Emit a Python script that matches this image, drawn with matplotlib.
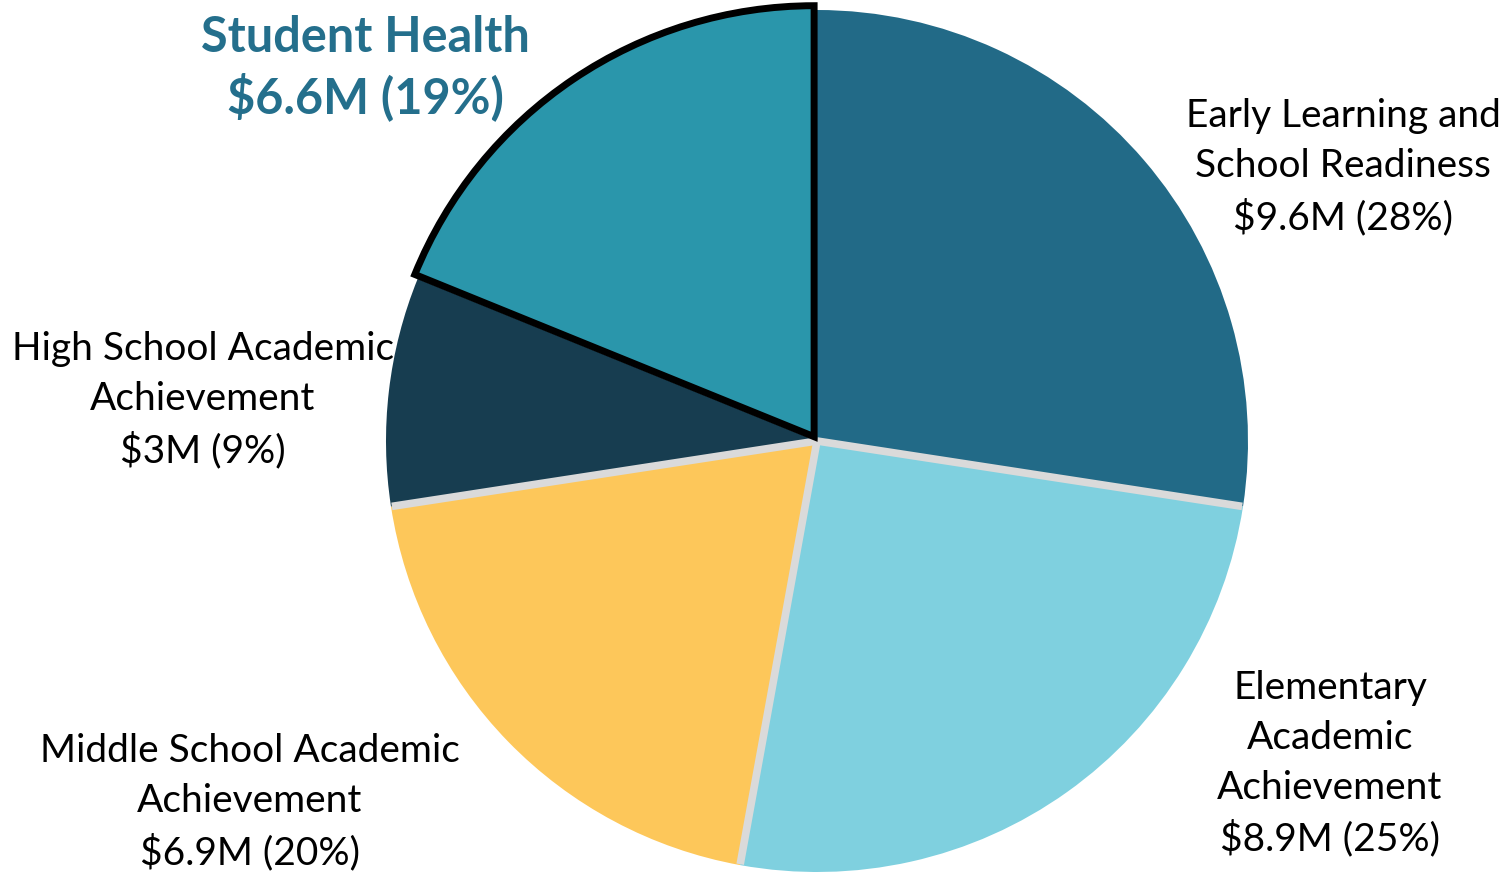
import matplotlib
matplotlib.use("Agg")
import matplotlib.pyplot as plt
import numpy as np

categories = ["Early Learning and\nSchool Readiness", "Elementary\nAcademic\nAchievement",
              "Middle School Academic\nAchievement", "High School Academic\nAchievement",
              "Student Health"]
values = [9.6, 8.9, 6.9, 3.0, 6.6]
value_labels = ["$9.6M (28%)", "$8.9M (25%)", "$6.9M (20%)", "$3M (9%)", "$6.6M (19%)"]
colors = ["#226A87", "#7FD0DF", "#FDC75A", "#173D50", "#2A96AB"]

plt.rcParams['font.family'] = ['Lato', 'DejaVu Sans']

W, H = 1508, 872
fig = plt.figure(figsize=(W / 100, H / 100), dpi=100)
cx, cy, r = 817, 441, 431
ax = fig.add_axes([(cx - r) / W, (H - cy - r) / H, 2 * r / W, 2 * r / H])

explode = [0, 0, 0, 0, 0.012]
wedges, _ = ax.pie(values, colors=colors, startangle=90, counterclock=False, radius=1,
                   explode=explode, wedgeprops=dict(linewidth=0))
# light gray separators between slices
vals = np.array(values)
bounds = 90 - 360 * np.cumsum(vals) / vals.sum()
for b in bounds[:3]:
    a = np.deg2rad(b)
    ax.plot([0, np.cos(a) * 0.998], [0, np.sin(a) * 0.998], color="#DADADA", lw=5.5,
            solid_capstyle='butt', zorder=3)
wedges[4].set_edgecolor("black")
wedges[4].set_linewidth(5)
wedges[4].set_joinstyle('miter')
wedges[4].set_zorder(5)
ax.set_xlim(-1, 1)
ax.set_ylim(-1, 1)
ax.set_aspect('equal')
ax.axis('off')

def label(px, py, text, **kw):
    fig.text(px / W, 1 - py / H, text, ha='center', va='center', **kw)

fs = 28
ls = 1.47
label(1343, 167, categories[0] + "\n" + value_labels[0], fontsize=fs, linespacing=ls, color="black")
label(1330, 764, categories[1] + "\n" + value_labels[1], fontsize=fs, linespacing=ls, color="black")
label(250, 802, categories[2] + "\n" + value_labels[2], fontsize=fs, linespacing=ls, color="black")
label(203, 400, categories[3] + "\n" + value_labels[3], fontsize=fs, linespacing=ls, color="black")
label(365, 68, categories[4] + "\n" + value_labels[4], fontsize=35, linespacing=1.3,
      color="#246F8C", fontweight='bold')

fig.savefig("out.png", dpi=100)
